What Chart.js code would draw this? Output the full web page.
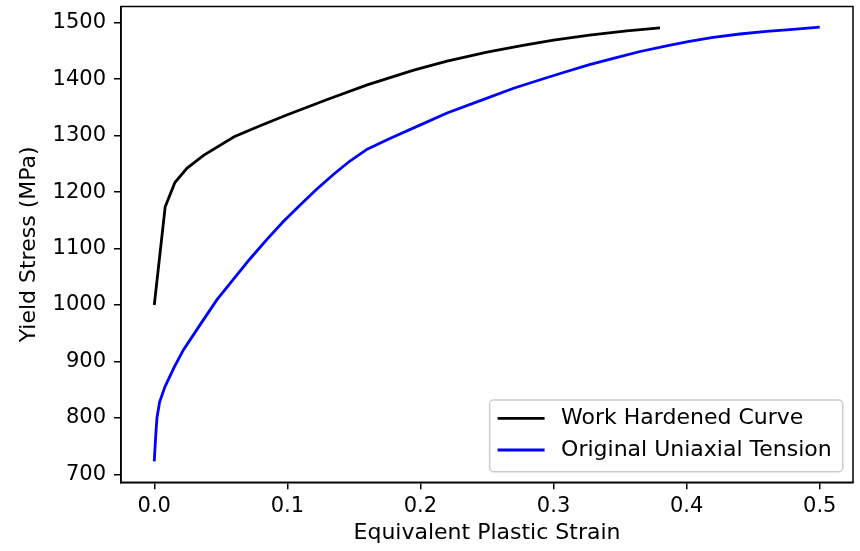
<!DOCTYPE html>
<html>
<head>
<meta charset="utf-8">
<script src="https://cdn.jsdelivr.net/npm/chart.js@4"></script>
<style>
  body { margin: 0; background: #fff; }
  canvas { display: block; }
</style>
</head>
<body>
<canvas id="myChart" width="860" height="551"></canvas>
<script>
// Kaltverfestigte Kurve (Dehnung / Spannung in MPa)
const hardenedStrain = [0, 0.0082, 0.0155, 0.0245, 0.037, 0.06, 0.08, 0.1, 0.13, 0.16, 0.195, 0.22, 0.25, 0.277, 0.3, 0.327, 0.355, 0.38];
const hardenedStress = [1000, 1174, 1217, 1242, 1265, 1298, 1318, 1337, 1364, 1390, 1416, 1432, 1448, 1460, 1469, 1478, 1485.5, 1491];

// Ursprünglicher einachsiger Zugversuch
const uniaxialStrain = [0, 0.001, 0.002, 0.004, 0.008, 0.015, 0.022, 0.035, 0.047, 0.06, 0.072, 0.085, 0.097, 0.11, 0.122, 0.135, 0.147, 0.16, 0.177, 0.2, 0.22, 0.245, 0.27, 0.29, 0.305, 0.327, 0.345, 0.365, 0.385, 0.402, 0.42, 0.44, 0.46, 0.4775, 0.5];
const uniaxialStress = [723, 765, 800, 828, 855, 890, 921, 967, 1009, 1047, 1082, 1117, 1148, 1178, 1205, 1232, 1255, 1276, 1295, 1319, 1340, 1362, 1384, 1399, 1410, 1425.6, 1437, 1449, 1459, 1467, 1474, 1480, 1484.5, 1487.6, 1492];

const seriesLabels = ['Work Hardened Curve', 'Original Uniaxial Tension'];

// Achsenbeschriftung
const xTicks = [0, 0.1, 0.2, 0.3, 0.4, 0.5];
const yTicks = [700, 800, 900, 1000, 1100, 1200, 1300, 1400, 1500];

const TICK_FONT = { family: 'DejaVu Sans', size: 21 };
const LABEL_FONT = { family: 'DejaVu Sans', size: 22 };

function toXY(xs, ys) {
    return xs.map((x, i) => ({ x: x, y: ys[i] }));
}

// keine automatische Randreserve für Tick-Beschriftungen
function noScalePadding(s) {
    s.paddingTop = 0;
    s.paddingBottom = 0;
    s.paddingLeft = 0;
    s.paddingRight = 0;
}

// Rahmen um die Zeichenfläche (oben und rechts fehlen sonst)
const framePlugin = {
    id: 'frame',
    afterDatasetsDraw(chart) {
        const { ctx, chartArea: a } = chart;
        ctx.save();
        ctx.strokeStyle = '#000';
        ctx.lineWidth = 1.5;
        ctx.strokeRect(a.left, a.top, a.right - a.left, a.bottom - a.top);
        ctx.restore();
    }
};

// Legende unten rechts innerhalb des Diagramms
const insideLegend = {
    id: 'insideLegend',
    afterDraw(chart) {
        const { ctx, chartArea: a } = chart;
        const sets = chart.data.datasets;
        ctx.save();
        ctx.font = LABEL_FONT.size + 'px ' + LABEL_FONT.family;
        const maxW = Math.max(...sets.map(d => ctx.measureText(d.label).width));
        const padL = 8, lineLen = 47, gap = 16.5, padR = 11, rowH = 31.7;
        const w = padL + lineLen + gap + maxW + padR;
        const h = 71.7;
        const x0 = a.right - 10.3 - w;
        const y0 = a.bottom - 10.6 - h;

        ctx.beginPath();
        ctx.roundRect(x0, y0, w, h, 4);
        ctx.fillStyle = 'rgba(255,255,255,0.8)';
        ctx.fill();
        ctx.strokeStyle = '#cccccc';
        ctx.lineWidth = 1.5;
        ctx.stroke();

        sets.forEach((d, i) => {
            const cy = y0 + 18.3 + i * rowH;
            ctx.beginPath();
            ctx.moveTo(x0 + padL, cy);
            ctx.lineTo(x0 + padL + lineLen, cy);
            ctx.strokeStyle = d.borderColor;
            ctx.lineWidth = 2.8;
            ctx.stroke();
            ctx.fillStyle = '#000';
            ctx.textBaseline = 'middle';
            ctx.fillText(d.label, x0 + padL + lineLen + gap, cy);
        });
        ctx.restore();
    }
};

const ctx = document.getElementById('myChart').getContext('2d');
const myChart = new Chart(ctx, {
    type: 'line',
    data: {
        datasets: [
            {
                label: seriesLabels[0],
                data: toXY(hardenedStrain, hardenedStress),
                borderColor: '#000000',
                borderWidth: 2.8,
                pointRadius: 0,
                tension: 0,
                fill: false
            },
            {
                label: seriesLabels[1],
                data: toXY(uniaxialStrain, uniaxialStress),
                borderColor: '#0000ff',
                borderWidth: 2.8,
                pointRadius: 0,
                tension: 0,
                fill: false
            }
        ]
    },
    options: {
        responsive: false,
        animation: false,
        devicePixelRatio: 1,
        layout: { padding: { top: 6.5, right: 7, left: 0, bottom: 0 } },
        scales: {
            x: {
                type: 'linear',
                position: 'bottom',
                min: -0.025,
                max: 0.525,
                afterBuildTicks: s => { s.ticks = xTicks.map(v => ({ value: v })); },
                afterFit: s => { s.height = 68.7; noScalePadding(s); },
                ticks: {
                    color: '#000',
                    font: TICK_FONT,
                    padding: 5,
                    maxRotation: 0,
                    callback: v => Number(v).toFixed(1)
                },
                grid: { drawOnChartArea: false, drawTicks: true, tickLength: 7, color: '#000', lineWidth: 1.5 },
                border: { display: true, color: '#000', width: 1.5 },
                title: {
                    display: true,
                    text: 'Equivalent Plastic Strain',
                    color: '#000',
                    font: LABEL_FONT,
                    padding: { top: 0, bottom: 5 }
                }
            },
            y: {
                min: 686,
                max: 1528.7,
                afterBuildTicks: s => { s.ticks = yTicks.map(v => ({ value: v })); },
                afterFit: s => { s.width = 121; noScalePadding(s); },
                ticks: {
                    color: '#000',
                    font: TICK_FONT,
                    padding: 8,
                    callback: v => String(v)
                },
                grid: { drawOnChartArea: false, drawTicks: true, tickLength: 7, color: '#000', lineWidth: 1.5 },
                border: { display: true, color: '#000', width: 1.5 },
                title: {
                    display: true,
                    text: 'Yield Stress (MPa)',
                    color: '#000',
                    font: LABEL_FONT,
                    padding: { top: 16, bottom: 0 }
                }
            }
        },
        plugins: {
            legend: { display: false },
            tooltip: { enabled: false }
        }
    },
    plugins: [framePlugin, insideLegend]
});
</script>
</body>
</html>
